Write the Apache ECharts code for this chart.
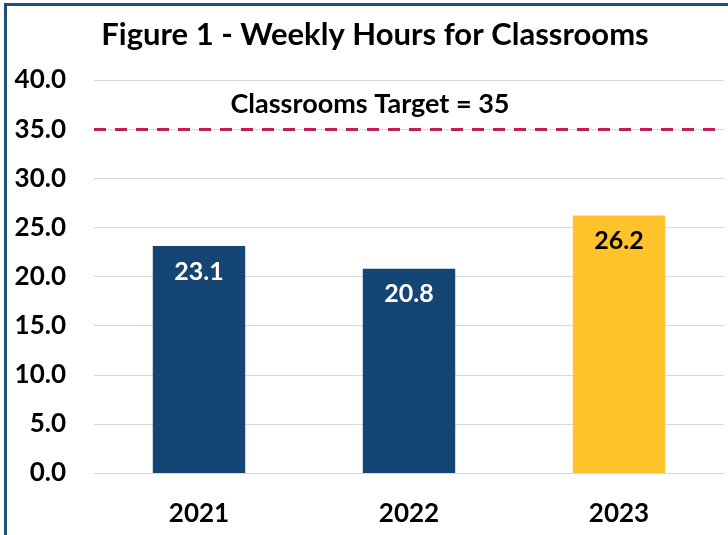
<!DOCTYPE html>
<html>
<head>
    <meta charset="utf-8">
    <script src="https://cdn.jsdelivr.net/npm/echarts@6/dist/echarts.min.js"></script>
    <style>
        html, body { margin: 0; padding: 0; background: #fff; }
    </style>
</head>
<body>
    <div id="main" style="width: 728px;height:535px"></div>
    <script type="text/javascript">
        // data
        var years = ['2021', '2022', '2023'];
        var hours = [23.1, 20.8, 26.2];
        var target = 35;
        var yTicks = [0, 5, 10, 15, 20, 25, 30, 35, 40];

        var FONT = 'Lato';
        var BLUE = '#154673';
        var GOLD = '#FEC22A';

        var myChart = echarts.init(document.getElementById('main'));

        var option = {
            animation: false,
            title: {
                text: 'Figure 1 - Weekly Hours for Classrooms',
                left: 370,
                textAlign: 'center',
                top: 14,
                textStyle: { fontFamily: FONT, fontWeight: 'bold', fontSize: 31, color: '#000' }
            },
            graphic: [{
                type: 'rect',
                shape: { x: 5.5, y: 4.5, width: 900, height: 700 },
                style: { fill: 'none', stroke: '#1F4E79', lineWidth: 3 },
                z: 100
            }],
            grid: { left: 94, right: 4, top: 80, bottom: 62 },
            xAxis: {
                type: 'category',
                data: years,
                axisLine: { show: false },
                axisTick: { show: false },
                axisLabel: {
                    margin: 28,
                    fontFamily: FONT, fontWeight: 'bold', fontSize: 26, color: '#000'
                }
            },
            yAxis: {
                type: 'value',
                min: yTicks[0],
                max: yTicks[yTicks.length - 1],
                interval: 5,
                axisLine: { show: false },
                axisTick: { show: false },
                splitLine: { lineStyle: { color: '#d9d9d9', width: 1 } },
                axisLabel: {
                    margin: 28,
                    formatter: function (v) { return v.toFixed(1); },
                    fontFamily: FONT, fontWeight: 'bold', fontSize: 26, color: '#000'
                }
            },
            series: [{
                type: 'bar',
                barWidth: '44%',
                data: hours.map(function (v, i) {
                    var last = i === hours.length - 1;
                    return {
                        value: v,
                        itemStyle: { color: last ? GOLD : BLUE },
                        label: { color: last ? '#000' : '#fff' }
                    };
                }),
                label: {
                    show: true,
                    position: 'insideTop',
                    distance: 13,
                    formatter: function (p) { return p.value.toFixed(1); },
                    fontFamily: FONT, fontWeight: 'bold', fontSize: 25
                },
                markLine: {
                    silent: true,
                    symbol: 'none',
                    lineStyle: { color: '#BE1E5A', width: 3, type: [12, 9] },
                    label: {
                        show: true,
                        position: 'insideMiddleTop',
                        distance: 11,
                        offset: [-39, 0],
                        formatter: 'Classrooms Target = ' + target,
                        fontFamily: FONT, fontWeight: 'bold', fontSize: 27, color: '#000'
                    },
                    data: [{ yAxis: target }]
                }
            }]
        };

        myChart.setOption(option);
    </script>
</body>
</html>
